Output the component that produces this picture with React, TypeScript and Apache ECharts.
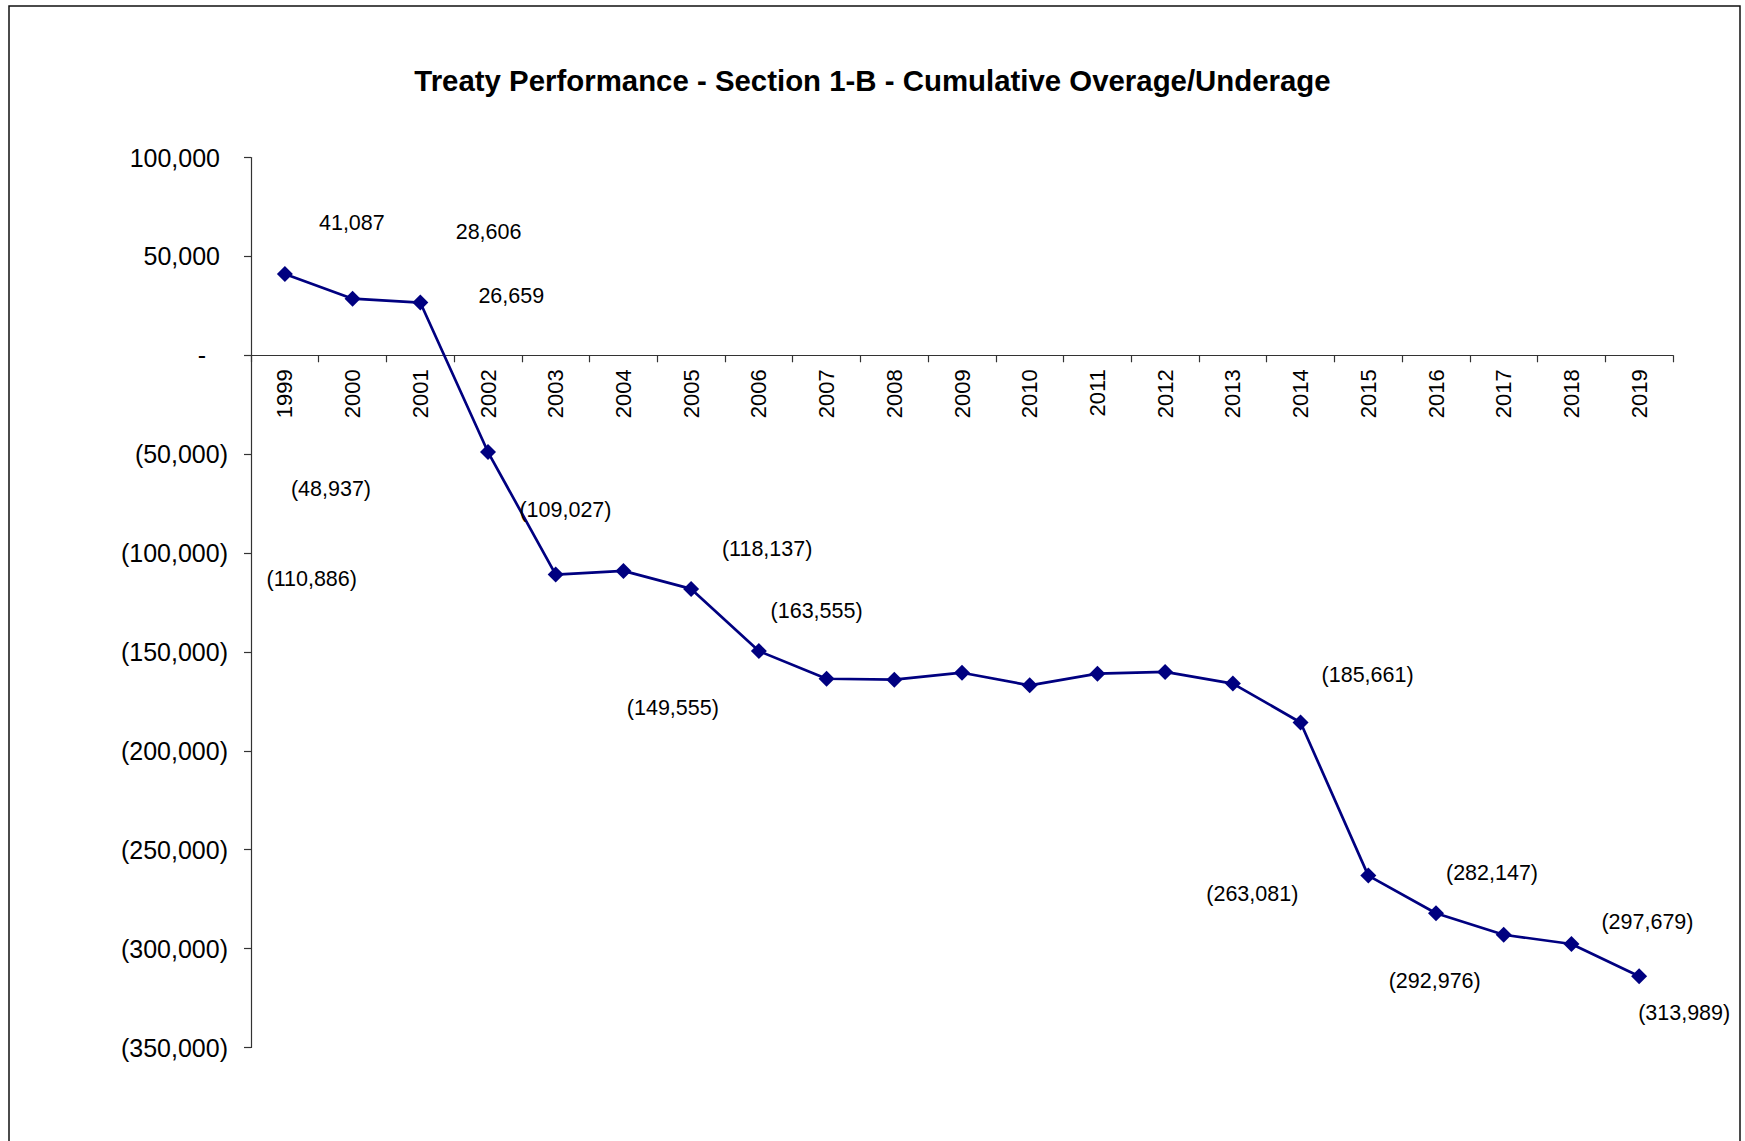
import React, { useEffect, useRef } from "react";
import * as echarts from "echarts";

const TITLE = "Treaty Performance - Section 1-B - Cumulative Overage/Underage";

const years = [
  "1999", "2000", "2001", "2002", "2003", "2004", "2005", "2006", "2007", "2008",
  "2009", "2010", "2011", "2012", "2013", "2014", "2015", "2016", "2017", "2018", "2019",
];

const values = [
  41087, 28606, 26659, -48937, -110886, -109027, -118137, -149555, -163555, -164000,
  -160500, -166900, -161000, -160100, -166000, -185661, -263081, -282147, -292976, -297679, -313989,
];

const labelShown = [
  true, true, true, true, true, true, true, true, true, false,
  false, false, false, false, false, true, true, true, true, true, true,
];

// label displacement from each marker (layout only)
const labelOffsets: [number, number][] = [
  [67, -51], [136, -67], [91, -7], [-157, 37], [-244, 4], [-58, -61], [76, -40], [-86, 57], [-10, -68], [0, 0],
  [0, 0], [0, 0], [0, 0], [0, 0], [0, 0], [67, -47], [-116, 18], [56, -40], [-69, 46], [76, -22], [45, 37],
];

const Y_MIN = -350000;
const Y_MAX = 100000;
const Y_STEP = 50000;

const GRID_TOP = 157.5;
const GRID_BOTTOM_PX = 1047.5;

const FONT = "'Liberation Sans', Arial, Helvetica, sans-serif";

function fmtNumber(v: number): string {
  if (v === 0) return "-";
  const s = Math.abs(Math.round(v)).toLocaleString("en-US");
  return v < 0 ? `(${s})` : s;
}

export default function App() {
  const ref = useRef<HTMLDivElement>(null);

  useEffect(() => {
    if (!ref.current) return;
    const chart = echarts.init(ref.current, undefined, { renderer: "svg" });

    const seriesData = values.map((v, i) => ({
      value: v,
      label: {
        show: labelShown[i],
        position: "inside",
        align: "center",
        verticalAlign: "middle",
        offset: labelOffsets[i],
      },
    }));

    // distance from the bottom of the plot to the zero line
    const plotH = GRID_BOTTOM_PX - GRID_TOP;
    const zeroFromBottom = (plotH * (0 - Y_MIN)) / (Y_MAX - Y_MIN);

    chart.setOption({
      animation: false,
      backgroundColor: "#ffffff",
      title: {
        text: TITLE,
        left: "center",
        top: 61,
        textStyle: {
          fontFamily: FONT,
          fontSize: 29.4,
          fontWeight: "bold",
          color: "#000000",
        },
      },
      graphic: [
        {
          type: "rect",
          shape: { x: 9, y: 6, width: 1731, height: 1200 },
          style: { fill: "none", stroke: "#111111", lineWidth: 1.5 },
          silent: true,
          z: -1,
        },
      ],
      grid: {
        left: 251,
        right: 72,
        top: GRID_TOP,
        bottom: 1141 - GRID_BOTTOM_PX,
        containLabel: false,
      },
      xAxis: {
        type: "category",
        data: years,
        boundaryGap: true,
        position: "bottom",
        offset: -zeroFromBottom,
        axisLine: { show: true, onZero: false, lineStyle: { color: "#333333", width: 1.2 } },
        axisTick: { show: true, inside: false, length: 7, lineStyle: { color: "#333333", width: 1.2 } },
        axisLabel: {
          rotate: 90,
          margin: 14,
          fontFamily: FONT,
          fontSize: 22,
          color: "#000000",
        },
        splitLine: { show: false },
      },
      yAxis: {
        type: "value",
        min: Y_MIN,
        max: Y_MAX,
        interval: Y_STEP,
        axisLine: { show: true, lineStyle: { color: "#333333", width: 1.2 } },
        axisTick: { show: true, inside: false, length: 7, lineStyle: { color: "#333333", width: 1.2 } },
        splitLine: { show: false },
        axisLabel: {
          margin: 23,
          fontFamily: FONT,
          fontSize: 25,
          color: "#000000",
          formatter: (v: number) => {
            if (v === 0) return "{z|-}";
            if (v > 0) return `{p|${fmtNumber(v)}}`;
            return `{n|${fmtNumber(v)}}`;
          },
          rich: {
            z: { fontFamily: FONT, fontSize: 25, color: "#000000", padding: [0, 22, 0, 0] },
            p: { fontFamily: FONT, fontSize: 25, color: "#000000", padding: [0, 8, 0, 0] },
            n: { fontFamily: FONT, fontSize: 25, color: "#000000" },
          },
        },
      },
      series: [
        {
          type: "line",
          data: seriesData,
          symbol: "diamond",
          symbolSize: 16,
          lineStyle: { color: "#000080", width: 2.7 },
          itemStyle: { color: "#000080" },
          label: {
            fontFamily: FONT,
            fontSize: 21.5,
            color: "#000000",
            formatter: (p: any) => fmtNumber(p.value),
          },
          emphasis: { disabled: true },
        },
      ],
    });

    return () => {
      chart.dispose();
    };
  }, []);

  return (
    <div
      ref={ref}
      style={{
        position: "fixed",
        left: 0,
        top: 0,
        width: 1745,
        height: 1141,
        background: "#ffffff",
      }}
    />
  );
}
